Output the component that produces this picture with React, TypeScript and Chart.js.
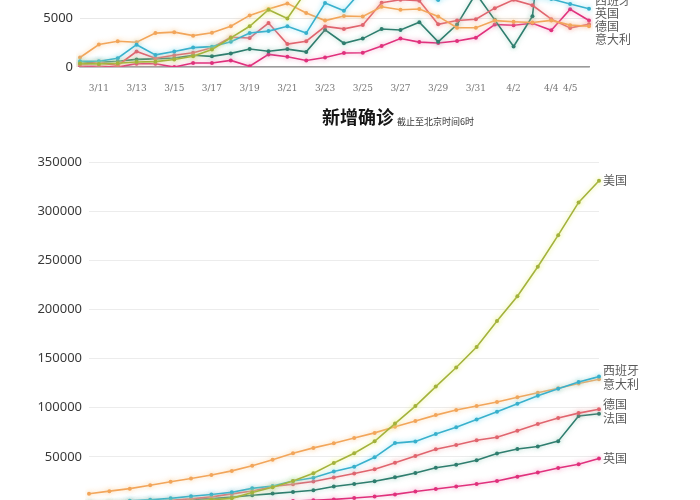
import React, { useEffect, useRef } from 'react';
import { Chart, registerables } from 'chart.js';

Chart.register(...registerables);

// ---------- data ----------
const COUNTRIES = ['美国', '西班牙', '意大利', '德国', '法国', '英国'];
const COLORS = ['#a3b23c', '#38b0cc', '#f2a55a', '#e0646e', '#2e7d6e', '#e0307c'];
const GLOWS = ['rgba(230,240,120,0.9)', 'rgba(120,220,240,0.8)', 'rgba(250,200,140,0.8)', 'rgba(240,150,150,0.7)', 'rgba(120,190,170,0.6)', 'rgba(240,130,180,0.7)'];

// top chart: daily new cases
const DAILY_DATES = ['3/10', '3/11', '3/12', '3/13', '3/14', '3/15', '3/16', '3/17', '3/18', '3/19', '3/20', '3/21', '3/22', '3/23', '3/24', '3/25', '3/26', '3/27', '3/28', '3/29', '3/30', '3/31', '4/1', '4/2', '4/3', '4/4', '4/5', '4/6'];
const DAILY_TICKS = ['3/11', '3/13', '3/15', '3/17', '3/19', '3/21', '3/23', '3/25', '3/27', '3/29', '3/31', '4/2', '4/4', '4/5'];
const DAILY_US = [350, 320, 380, 520, 550, 770, 1100, 1800, 3000, 4200, 5900, 5000, 7800, 10500, 9900, 12000, 18000, 17800, 19800, 19400, 20900, 26400, 25200, 30100, 32100, 33300, 28200, 29600];
const DAILY_ES = [600, 600, 900, 2300, 1250, 1600, 2000, 2100, 2600, 3500, 3700, 4200, 3500, 6600, 5800, 8000, 8500, 7900, 7500, 6900, 7800, 8000, 8200, 7900, 7100, 7000, 6500, 6000];
const DAILY_IT = [977, 2313, 2651, 2547, 3497, 3590, 3233, 3526, 4207, 5322, 5986, 6557, 5560, 4789, 5249, 5210, 6203, 5909, 5974, 5217, 4050, 4053, 4782, 4668, 4585, 4805, 4316, 4200];
const DAILY_DE = [281, 451, 170, 1597, 910, 1210, 1477, 1985, 3070, 2993, 4528, 2365, 2660, 4183, 3930, 4337, 6615, 6933, 6824, 4400, 4790, 4923, 6064, 6922, 6365, 4933, 4031, 4400];
const DAILY_FR = [372, 497, 595, 785, 838, 924, 1210, 1097, 1404, 1861, 1617, 1847, 1559, 3838, 2446, 2929, 3922, 3809, 4611, 2599, 4376, 7578, 4861, 2116, 5233, 23000, 7500, 9000];
const DAILY_UK = [61, 74, 3, 343, 342, 1, 406, 409, 682, 74, 1298, 1053, 678, 981, 1438, 1476, 2172, 2933, 2567, 2468, 2673, 3028, 4384, 4308, 4516, 3788, 5959, 4800];
const DAILY_Y_MAX = 10000;
const DAILY_Y_STEP = 5000;

// bottom chart: cumulative confirmed
const TITLE = '新增确诊';
const SUBTITLE = '截止至北京时间6时';
const TOTAL_DATES = ['3/11', '3/12', '3/13', '3/14', '3/15', '3/16', '3/17', '3/18', '3/19', '3/20', '3/21', '3/22', '3/23', '3/24', '3/25', '3/26', '3/27', '3/28', '3/29', '3/30', '3/31', '4/1', '4/2', '4/3', '4/4', '4/5'];
const TOTAL_US = [1281, 1663, 2179, 2726, 3499, 4632, 6421, 7786, 13680, 19100, 25489, 33276, 43847, 53740, 65778, 83836, 101657, 121478, 140886, 161807, 188172, 213372, 243453, 275586, 308853, 331000];
const TOTAL_ES = [2277, 2277, 5232, 6391, 7798, 9942, 11748, 13910, 17963, 20410, 25374, 28768, 35136, 39885, 49515, 64000, 65719, 73235, 80110, 87956, 95923, 104118, 112065, 119199, 126168, 131646];
const TOTAL_IT = [12462, 15113, 17660, 21157, 24747, 27980, 31506, 35713, 41035, 47021, 53578, 59138, 63927, 69176, 74386, 80589, 86498, 92472, 97689, 101739, 105792, 110574, 115242, 119827, 124632, 128948];
const TOTAL_DE = [1908, 2078, 3675, 4585, 5795, 7272, 9257, 12327, 15320, 19848, 22213, 24873, 29056, 32986, 37323, 43938, 50871, 57695, 62095, 66885, 70000, 76500, 83500, 89500, 94500, 98500];
const TOTAL_FR = [2284, 2284, 3661, 4469, 4499, 6633, 7652, 9043, 10871, 12612, 14282, 16018, 19856, 22304, 25233, 29155, 33500, 39000, 42000, 46500, 53500, 58000, 60500, 66000, 91500, 93800];
const TOTAL_UK = [459, 459, 802, 1144, 1145, 1551, 1960, 2642, 2716, 4014, 5067, 5745, 6726, 8164, 9640, 11812, 14745, 17312, 19780, 22453, 25481, 29865, 34173, 38689, 42477, 48436];
const TOTAL_Y_MAX = 350000;
const TOTAL_Y_STEP = 50000;

const DAILY_SERIES = [DAILY_US, DAILY_ES, DAILY_IT, DAILY_DE, DAILY_FR, DAILY_UK];
const TOTAL_SERIES = [TOTAL_US, TOTAL_ES, TOTAL_IT, TOTAL_DE, TOTAL_FR, TOTAL_UK];

// ---------- plugins ----------
const glowPlugin = {
  id: 'glow',
  beforeDatasetDraw(chart: any, args: any) {
    const ctx = chart.ctx;
    ctx.save();
    ctx.shadowColor = GLOWS[args.index];
    ctx.shadowBlur = 5;
  },
  afterDatasetDraw(chart: any) {
    chart.ctx.restore();
  },
};

function makeEndLabels(spacing: number, fontSize: number, dx: number) {
  return {
    id: 'endLabels',
    afterDatasetsDraw(chart: any) {
      const ctx = chart.ctx;
      const items = chart.data.datasets.map((ds: any, i: number) => {
        const meta = chart.getDatasetMeta(i);
        const pt = meta.data[meta.data.length - 1];
        return { text: ds.label, x: pt.x, y: pt.y };
      });
      items.sort((a: any, b: any) => a.y - b.y);
      let clusters = items.map((it: any) => ({ members: [it], c: it.y }));
      let merged = true;
      while (merged) {
        merged = false;
        for (let k = 0; k < clusters.length - 1; k++) {
          const a = clusters[k];
          const b = clusters[k + 1];
          const aBottom = a.c + ((a.members.length - 1) * spacing) / 2;
          const bTop = b.c - ((b.members.length - 1) * spacing) / 2;
          if (bTop - aBottom < spacing) {
            const members = a.members.concat(b.members);
            const c = members.reduce((s: number, m: any) => s + m.y, 0) / members.length;
            clusters.splice(k, 2, { members, c });
            merged = true;
            break;
          }
        }
      }
      ctx.save();
      ctx.font = `${fontSize}px "Noto Sans CJK SC", sans-serif`;
      ctx.fillStyle = '#5a5a5a';
      ctx.textAlign = 'left';
      ctx.textBaseline = 'middle';
      clusters.forEach((cl: any) => {
        cl.members.forEach((m: any, j: number) => {
          const y = cl.c - ((cl.members.length - 1) * spacing) / 2 + j * spacing;
          ctx.fillText(m.text, m.x + dx, y);
        });
      });
      ctx.restore();
    },
  };
}

const titlePlugin = {
  id: 'titles',
  afterDraw(chart: any) {
    const ctx = chart.ctx;
    const area = chart.chartArea;
    const cx = (area.left + area.right) / 2 + 14;
    ctx.save();
    ctx.font = 'bold 18px "Noto Sans CJK SC", sans-serif';
    ctx.fillStyle = '#161616';
    ctx.textAlign = 'center';
    ctx.textBaseline = 'middle';
    ctx.fillText(TITLE, cx, 17);
    const w = ctx.measureText(TITLE).width;
    ctx.font = '9px "Noto Sans CJK SC", sans-serif';
    ctx.fillStyle = '#333';
    ctx.textAlign = 'left';
    ctx.fillText(SUBTITLE, cx + w / 2 + 3, 22);
    ctx.restore();
  },
};

function makeDatasets(series: number[][], radius: number) {
  return series.map((values, i) => ({
    label: COUNTRIES[i],
    data: values,
    borderColor: COLORS[i],
    backgroundColor: COLORS[i],
    borderWidth: 1.6,
    pointRadius: radius,
    pointBorderWidth: 0,
    pointBackgroundColor: COLORS[i],
    tension: 0,
    fill: false,
  }));
}

const plainNumber = (v: any) => String(v);

export default function App() {
  const topRef = useRef<HTMLCanvasElement>(null);
  const bottomRef = useRef<HTMLCanvasElement>(null);

  useEffect(() => {
    const topChart = new Chart(topRef.current as HTMLCanvasElement, {
      type: 'line',
      data: { labels: DAILY_DATES, datasets: makeDatasets(DAILY_SERIES, 2) as any },
      options: {
        animation: false,
        responsive: false,
        devicePixelRatio: 1,
        layout: { padding: { top: 30, right: 111, bottom: 0, left: 0 } },
        plugins: { legend: { display: false }, tooltip: { enabled: false }, title: { display: false } },
        scales: {
          x: {
            type: 'category',
            offset: false,
            afterFit: (s: any) => { s.height = 29; },
            grid: { display: false, drawTicks: false },
            border: { display: true, color: '#9a9a9a', width: 1.6 },
            ticks: {
              autoSkip: false,
              maxRotation: 0,
              padding: 16,
              color: '#777',
              font: { size: 9, family: '"DejaVu Serif", serif' },
              callback: function (this: any, value: any) {
                const lab = this.getLabelForValue(value);
                return DAILY_TICKS.includes(lab) ? lab : '';
              },
            },
          },
          y: {
            min: 0,
            max: DAILY_Y_MAX,
            afterFit: (s: any) => { s.width = 80; },
            grid: { color: '#e8e8e8', drawTicks: false },
            border: { display: false },
            ticks: { stepSize: DAILY_Y_STEP, padding: 7, color: '#333', font: { size: 13, family: '"Noto Sans", sans-serif' }, callback: plainNumber },
          },
        },
      },
      plugins: [glowPlugin, makeEndLabels(13, 12, 6)],
    });

    const bottomChart = new Chart(bottomRef.current as HTMLCanvasElement, {
      type: 'line',
      data: { labels: TOTAL_DATES, datasets: makeDatasets(TOTAL_SERIES, 2) as any },
      options: {
        animation: false,
        responsive: false,
        devicePixelRatio: 1,
        layout: { padding: { top: 62, right: 101, bottom: 0, left: 0 } },
        plugins: { legend: { display: false }, tooltip: { enabled: false }, title: { display: false } },
        scales: {
          x: {
            type: 'category',
            offset: false,
            afterFit: (s: any) => { s.height = 34; },
            grid: { display: false, drawTicks: false },
            border: { display: true, color: '#9a9a9a', width: 1.6 },
            ticks: { maxRotation: 0, padding: 15, color: '#777', font: { size: 9 } },
          },
          y: {
            min: 0,
            max: TOTAL_Y_MAX,
            afterFit: (s: any) => { s.width = 89; },
            grid: { color: '#ececec', drawTicks: false },
            border: { display: false },
            ticks: { stepSize: TOTAL_Y_STEP, padding: 7, color: '#3a3a3a', font: { size: 13, family: '"Noto Sans", sans-serif' }, callback: plainNumber },
          },
        },
      },
      plugins: [glowPlugin, makeEndLabels(14, 12, 4), titlePlugin],
    });

    return () => {
      topChart.destroy();
      bottomChart.destroy();
    };
  }, []);

  return (
    <div style={{ position: 'fixed', left: 0, top: 0, width: 700, height: 500, overflow: 'hidden', background: '#fff' }}>
      <canvas ref={topRef} width={700} height={156} style={{ position: 'absolute', left: 0, top: -60 }} />
      <canvas ref={bottomRef} width={700} height={440} style={{ position: 'absolute', left: 0, top: 100 }} />
    </div>
  );
}
